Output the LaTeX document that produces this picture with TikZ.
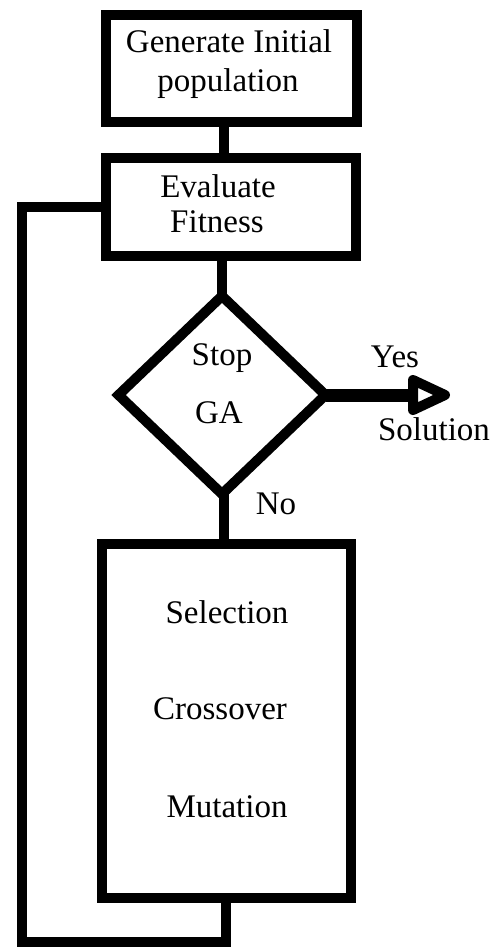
\documentclass[tikz,border=0pt]{standalone}
\usepackage{fontspec}
\setmainfont{Liberation Serif}
\usetikzlibrary{shapes.geometric}
\begin{document}
\begin{tikzpicture}[x=1pt,y=-1pt,
  every node/.style={inner sep=0pt, outer sep=0pt},
  boxstyle/.style={draw, rectangle, line width=10pt},
  dia/.style={draw, diamond, line width=10pt, line join=miter},
  lbl/.style={anchor=base, font=\fontsize{33}{40}\selectfont},
  conn/.style={line width=10pt},
  yesline/.style={line width=13pt},
  arrowhead/.style={draw, fill=white, line width=10pt, line join=round}
]
\useasboundingbox (0,0) rectangle (501,947);
% shapes
\node[boxstyle, minimum width=251pt, minimum height=107pt] (b1) at (231,69) {};
\node[boxstyle, minimum width=250pt, minimum height=98pt] (b2) at (231,207) {};
\node[dia, minimum width=207pt, minimum height=198pt] (d) at (222,395) {};
\node[boxstyle, minimum width=249pt, minimum height=354pt] (b3) at (226,720.5) {};
% texts
\node[lbl] (t1) at (229,53) {Generate Initial};
\node[lbl] (t2) at (228,92) {population};
\node[lbl] (t3) at (218,197) {Evaluate};
\node[lbl] (t4) at (217,232) {Fitness};
\node[lbl] (t5) at (222,365) {Stop};
\node[lbl] (t6) at (219,423) {GA};
\node[lbl] (t7) at (395,367) {Yes};
\node[lbl] (t8) at (434,440) {Solution};
\node[lbl] (t9) at (276,514) {No};
\node[lbl] (t10) at (227,623) {Selection};
\node[lbl] (t11) at (220,719) {Crossover};
\node[lbl] (t12) at (227,817) {Mutation};
% connectors
\draw[conn] ([xshift=-7pt]b1.south) -- ([xshift=-7pt]b2.north);
\draw[conn] (d.north |- b2.south) -- (d.north);
\draw[conn] ([xshift=2pt]d.south) -- ([xshift=2pt]d.south |- b3.north);
\coordinate (lc) at (21.5,942);
\draw[conn, line join=miter] (b3.south) |- (lc) |- (b2.west);
\coordinate (ah) at (413,395);
\draw[yesline] (d.east) -- (ah);
\draw[arrowhead] (ah) ++(0,-15) -- ++(32,15) -- ++(-32,15) -- cycle;
\end{tikzpicture}
\end{document}
